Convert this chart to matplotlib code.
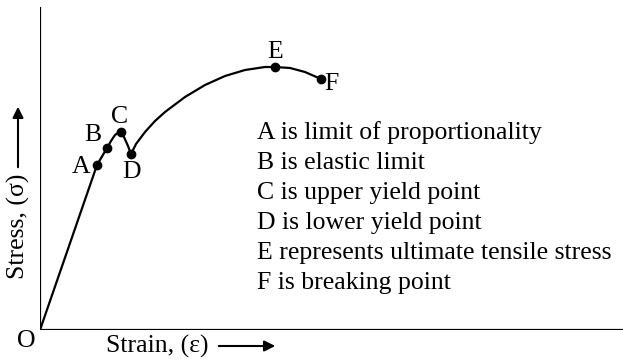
import matplotlib.pyplot as plt

plt.rcParams['font.family'] = ['Liberation Serif', 'DejaVu Serif']

# curve (arbitrary strain / stress units)
strain = [0, 57, 67, 71, 75, 79, 81, 84, 88, 91, 96, 105, 115, 125, 145, 165, 185, 205, 225, 235, 250, 265, 281]
stress = [0, 165, 182, 189, 195, 198, 198, 193, 184, 176, 186, 198, 209, 218, 233, 245, 254, 260, 263, 263, 262, 258, 251]

# marked points
point_names = ['A', 'B', 'C', 'D', 'E', 'F']
point_x = [57, 67, 81, 91, 235, 281]
point_y = [165, 182, 198, 176, 263, 251]
label_offsets = [(-16, -2), (-14, 13), (-1, 15), (1, -18), (0, 15), (10, -5)]

notes = [
    "A is limit of proportionality",
    "B is elastic limit",
    "C is upper yield point",
    "D is lower yield point",
    "E represents ultimate tensile stress",
    "F is breaking point",
]

W, H = 623, 362
FS = 18.5
fig = plt.figure(figsize=(W / 100, H / 100), dpi=100)
ax = fig.add_axes([40 / W, (H - 330) / H, (W - 40) / W, 323 / H])
ax.set_xlim(0, 583)
ax.set_ylim(0, 323)
ax.axis('off')

# axes lines
ax.plot([0, 0], [0, 323], color='black', lw=1.6, solid_capstyle='butt')
ax.plot([0, 583], [0, 0], color='black', lw=1.6, solid_capstyle='butt')

ax.plot(strain, stress, color='black', lw=1.6, solid_joinstyle='round')
ax.plot(point_x, point_y, 'o', color='black', ms=6)

for name, px, py, off in zip(point_names, point_x, point_y, label_offsets):
    ax.annotate(name, (px, py), xytext=off, textcoords='offset pixels',
                ha='center', va='center', fontsize=FS)

for i, line in enumerate(notes):
    fig.text(257 / W, 1 - (133 + 30 * i) / H, line, ha='left', va='center', fontsize=FS)

fig.text(26 / W, 1 - 341 / H, "O", ha='center', va='center', fontsize=FS)

# axis titles with arrows
fig.text(209 / W, 1 - 346 / H, "Strain, (ε)", ha='right', va='center', fontsize=FS)
fig.text(18 / W, 1 - 174 / H, "Stress, (σ)", ha='center', va='top', fontsize=FS, rotation=90)
ax.annotate('', xy=(18 / W, 1 - 104 / H), xytext=(18 / W, 1 - 170 / H),
            xycoords='figure fraction', textcoords='figure fraction',
            arrowprops=dict(arrowstyle='-|>', color='black', lw=1.5, mutation_scale=16))
ax.annotate('', xy=(278 / W, 1 - 346 / H), xytext=(216 / W, 1 - 346 / H),
            xycoords='figure fraction', textcoords='figure fraction',
            arrowprops=dict(arrowstyle='-|>', color='black', lw=1.5, mutation_scale=16))

fig.savefig('out.png', dpi=100)
